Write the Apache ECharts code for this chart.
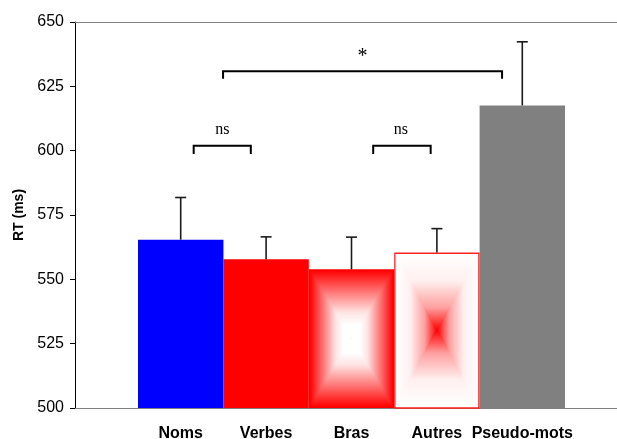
<!DOCTYPE html>
<html><head><meta charset="utf-8">
<script src="https://cdn.jsdelivr.net/npm/echarts@6/dist/echarts.min.js"></script>
<style>html,body{margin:0;padding:0;background:#fff}#c{width:617px;height:439px}</style>
</head><body><div id="c"></div>
<script>
// ---- data ----
const categories = ['Noms', 'Verbes', 'Bras', 'Autres', 'Pseudo-mots'];
const meanRT = [565.4, 557.8, 553.9, 560.4, 617.6];
const errorTop = [581.8, 566.5, 566.4, 569.7, 642.3];
const yTicks = [500, 525, 550, 575, 600, 625, 650];
// significance brackets (x in category units relative to first bar centre)
const bracketStart = [0.152, 2.254, 0.496];
const bracketEnd = [0.821, 2.927, 3.763];
const bracketY = [601.9, 601.9, 630.9];
const bracketLegY = [598.7, 598.7, 627.9];
const bracketLabels = ['ns', 'ns', '*'];
const bracketLabelX = [0.489, 2.579, 2.13];
const bracketLabelY = [608.2, 608.2, 636.5];

// ---- styles ----
const SANS = "Arial, 'Liberation Sans', sans-serif";
const SERIF = "'Times New Roman', 'Liberation Serif', serif";
const barColors = ['#0000FF', '#FF0000', '#FF0000', '#FFFFFF', '#808080'];
const barBorders = ['#0000FF', '#FF0000', '#FF0000', '#FF2020', '#808080'];
// rectangular "from centre" gradients: stops go edge -> centre
const rectGradients = {
  2: [{offset: 0, color: '#FF0000'}, {offset: 0.3, color: '#FF7070'}, {offset: 0.62, color: '#FFE4E4'}, {offset: 0.8, color: '#FFFFFF'}, {offset: 1, color: '#FFFFFF'}],
  3: [{offset: 0, color: '#FFFFFF'}, {offset: 0.35, color: '#FFF0F0'}, {offset: 0.7, color: '#FFA0A0'}, {offset: 1, color: '#FF0000'}]
};

const yMin = yTicks[0], yMax = yTicks[yTicks.length - 1];
const gridTop = 22, gridBottom = 31;

const chart = echarts.init(document.getElementById('c'), null, {renderer: 'canvas'});

const option = {
  animation: false,
  backgroundColor: '#fff',
  grid: [
    {left: 75, right: 0, top: gridTop, bottom: gridBottom, outerBoundsMode: 'none', containLabel: false},
    {left: 138, right: 52, top: gridTop, bottom: gridBottom, outerBoundsMode: 'none', containLabel: false}
  ],
  xAxis: [
    {gridIndex: 0, type: 'value', min: 0, max: 1, position: 'bottom',
      axisLine: {show: true, lineStyle: {color: '#808080', width: 1}},
      axisTick: {show: false}, axisLabel: {show: false}, splitLine: {show: false}},
    {gridIndex: 0, type: 'value', min: 0, max: 1, position: 'top',
      axisLine: {show: true, lineStyle: {color: '#808080', width: 1}},
      axisTick: {show: false}, axisLabel: {show: false}, splitLine: {show: false}},
    {gridIndex: 1, type: 'category', data: categories,
      axisLine: {show: false}, axisTick: {show: false}, splitLine: {show: false},
      axisLabel: {show: true, interval: 0, margin: 18, color: '#000', fontFamily: SANS, fontWeight: 'bold', fontSize: 16}}
  ],
  yAxis: [
    {gridIndex: 0, type: 'value', min: yMin, max: yMax, interval: 25,
      name: 'RT (ms)', nameLocation: 'middle', nameGap: 47,
      nameTextStyle: {color: '#000', fontFamily: SANS, fontWeight: 'bold', fontSize: 14},
      axisLine: {show: true, lineStyle: {color: '#000', width: 1}},
      axisTick: {show: true, inside: false, length: 5, lineStyle: {color: '#000'}},
      axisLabel: {show: true, margin: 11, color: '#000', fontFamily: SANS, fontSize: 16},
      splitLine: {show: false}},
    {gridIndex: 1, type: 'value', min: yMin, max: yMax, show: false}
  ],
  series: [
    {
      type: 'bar', xAxisIndex: 2, yAxisIndex: 1, barWidth: '100%', barCategoryGap: '0%',
      data: meanRT.map((v, i) => ({value: v, itemStyle: {color: barColors[i], borderColor: barBorders[i], borderWidth: i === 3 ? 1.5 : 0}})),
      z: 2
    },
    {
      // rectangular centre gradients inside Bras / Autres bars
      type: 'custom', xAxisIndex: 2, yAxisIndex: 1, z: 3,
      data: [2, 3].map(i => [i, meanRT[i]]),
      renderItem: function (params, api) {
        const i = api.value(0), v = api.value(1);
        const top = api.coord([i, v]);
        const base = api.coord([i, yMin]);
        const w = api.size([1, 0])[0];
        const inset = i === 3 ? 1.5 : 1;
        const x0 = top[0] - w / 2 + inset, x1 = top[0] + w / 2 - inset;
        const y0 = top[1] + inset, y1 = base[1] - inset;
        const cx = (x0 + x1) / 2, cy = (y0 + y1) / 2;
        const stops = rectGradients[i];
        const lg = (a, b, c, d) => ({type: 'linear', x: a, y: b, x2: c, y2: d, colorStops: stops});
        const poly = (pts, g) => ({type: 'polygon', shape: {points: pts}, style: {fill: g}});
        const d = 1.2;
        return {type: 'group', children: [
          poly([[x0, y0], [x0, y1], [cx, cy]], lg(0, 0, 1, 0)),
          poly([[x1, y0], [x1, y1], [cx, cy]], lg(1, 0, 0, 0)),
          poly([[x0, y0], [x1, y0], [cx + d, cy], [cx - d, cy]], lg(0, 0, 0, 1)),
          poly([[x0, y1], [x1, y1], [cx + d, cy], [cx - d, cy]], lg(0, 1, 0, 0))
        ]};
      }
    },
    {
      // error bars
      type: 'custom', xAxisIndex: 2, yAxisIndex: 1, z: 4,
      data: meanRT.map((v, i) => [i, v, errorTop[i]]),
      renderItem: function (params, api) {
        const i = api.value(0);
        const lo = api.coord([i, api.value(1)]);
        const hi = api.coord([i, api.value(2)]);
        const cap = 5.5;
        const st = {stroke: '#1a1a1a', lineWidth: 1.6};
        return {type: 'group', children: [
          {type: 'line', shape: {x1: lo[0], y1: lo[1], x2: hi[0], y2: hi[1]}, style: st},
          {type: 'line', shape: {x1: hi[0] - cap, y1: hi[1], x2: hi[0] + cap, y2: hi[1]}, style: st}
        ]};
      }
    },
    {
      // significance brackets
      type: 'custom', xAxisIndex: 2, yAxisIndex: 1, z: 5,
      data: bracketY.map((y, k) => [0, y]),
      renderItem: function (params, api) {
        const k = params.dataIndex;
        const origin = api.coord([0, bracketY[k]]);
        const leg = api.coord([0, bracketLegY[k]]);
        const lab = api.coord([0, bracketLabelY[k]]);
        const bw = api.size([1, 0])[0];
        const xa = origin[0] + bracketStart[k] * bw;
        const xb = origin[0] + bracketEnd[k] * bw;
        const xl = origin[0] + bracketLabelX[k] * bw;
        const star = bracketLabels[k] === '*';
        return {type: 'group', children: [
          {type: 'polyline', shape: {points: [[xa, leg[1]], [xa, origin[1]], [xb, origin[1]], [xb, leg[1]]]},
            style: {stroke: '#000', lineWidth: 2, fill: null}},
          {type: 'text', x: xl, y: lab[1], style: {text: bracketLabels[k], fill: '#000',
            font: (star ? '20px ' : '16px ') + SERIF, align: 'center', verticalAlign: 'middle'}}
        ]};
      }
    }
  ]
};
chart.setOption(option);
</script>
</body></html>
